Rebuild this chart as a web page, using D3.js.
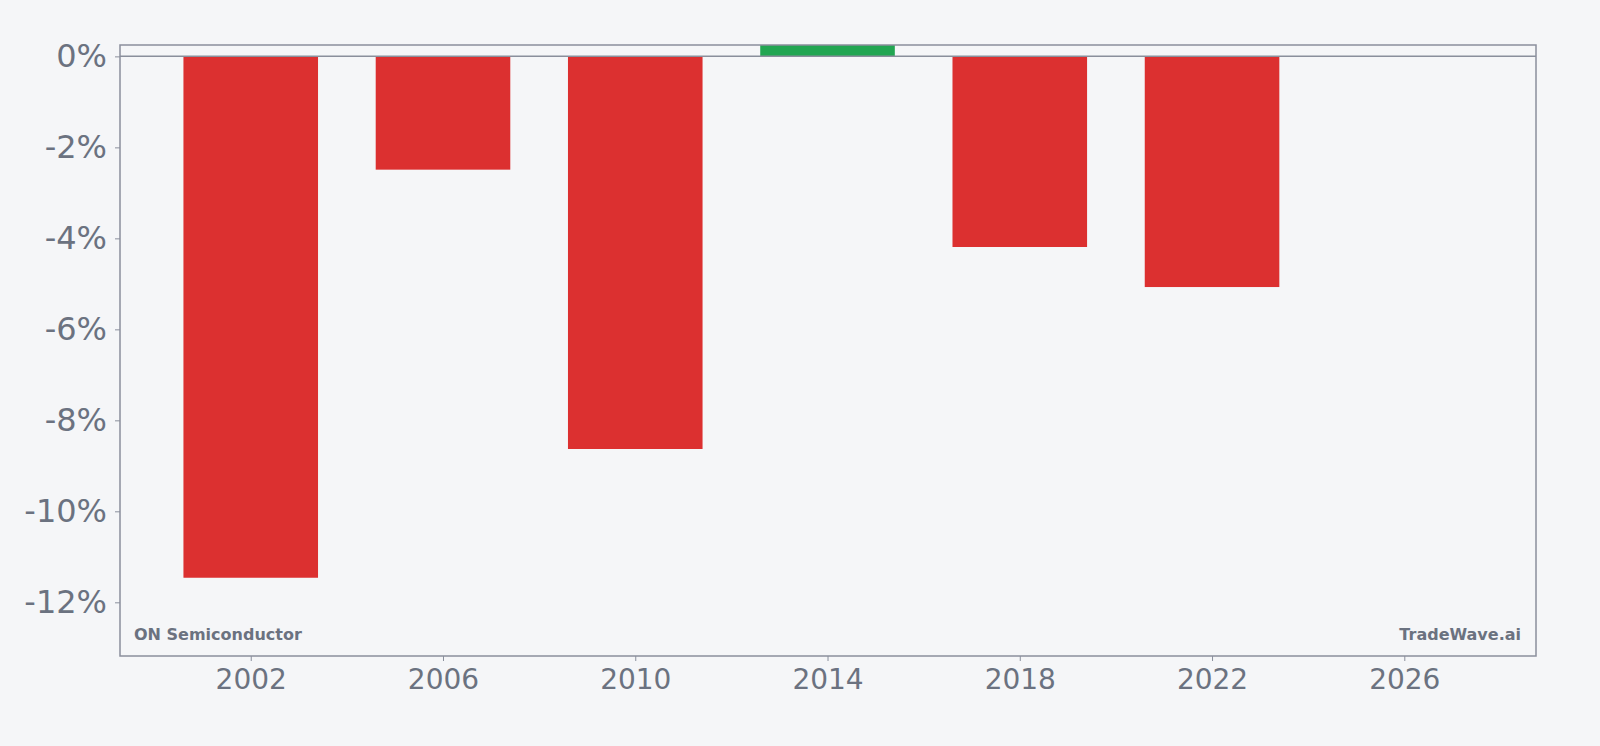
<!DOCTYPE html><html><head><meta charset="utf-8"><script src="https://cdn.jsdelivr.net/npm/d3@7"></script>
<style>body{margin:0;background:#f5f6f8}</style></head><body><svg id="c" width="1600" height="746"></svg>
<script>
const years=[2002,2006,2010,2014,2018,2022];
const values=[-11.46,-2.49,-8.63,0.3,-4.19,-5.07];
const yTicks=[0,-2,-4,-6,-8,-10,-12];
const xTicks=[2002,2006,2010,2014,2018,2022,2026];
const L=120,R=1536,T=45,B=656;
const svg=d3.select("#c");
const x=d3.scaleLinear().domain([1999.28,2028.74]).range([L,R]);
const y=d3.scaleLinear().domain([0.25,-13.18]).range([T,B]);
const g=svg.append("g");
g.append("clipPath").attr("id","cp").append("rect").attr("x",L).attr("y",T).attr("width",R-L).attr("height",B-T);
g.append("g").attr("clip-path","url(#cp)").selectAll("rect").data(years).join("rect")
 .attr("x",d=>x(d-1.4)).attr("width",d=>x(d+1.4)-x(d-1.4))
 .attr("y",(d,i)=>y(Math.max(0,values[i]))).attr("height",(d,i)=>Math.abs(y(values[i])-y(0)))
 .attr("fill",(d,i)=>values[i]>=0?"#22a652":"#dc3030");
g.append("line").attr("x1",L).attr("x2",R).attr("y1",y(0)).attr("y2",y(0)).attr("stroke","#8a8f9c").attr("stroke-width",1.5);
const ya=svg.append("g").attr("transform",`translate(${L},0)`).call(d3.axisLeft(y).tickValues(yTicks).tickFormat(d=>d+"%").tickSize(5).tickPadding(8));
const xa=svg.append("g").attr("transform",`translate(0,${B})`).call(d3.axisBottom(x).tickValues(xTicks).tickFormat(d3.format("d")).tickSize(5).tickPadding(8));
[ya,xa].forEach(a=>{a.select(".domain").remove();a.selectAll("line").attr("stroke","#8a8f9c");a.selectAll("text").attr("fill","#6b7280").style("font-family","DejaVu Sans").style("font-size","32px");});
xa.selectAll("text").style("font-size","28px");
svg.append("rect").attr("x",L).attr("y",T).attr("width",R-L).attr("height",B-T).attr("fill","none").attr("stroke","#8a8f9c").attr("stroke-width",1.5);
svg.append("text").attr("x",134).attr("y",640).text("ON Semiconductor").attr("fill","#6b7280").style("font-family","DejaVu Sans").style("font-weight","bold").style("font-size","16px");
svg.append("text").attr("x",1521).attr("y",640).attr("text-anchor","end").text("TradeWave.ai").attr("fill","#6b7280").style("font-family","DejaVu Sans").style("font-weight","bold").style("font-size","16px");
</script></body></html>
